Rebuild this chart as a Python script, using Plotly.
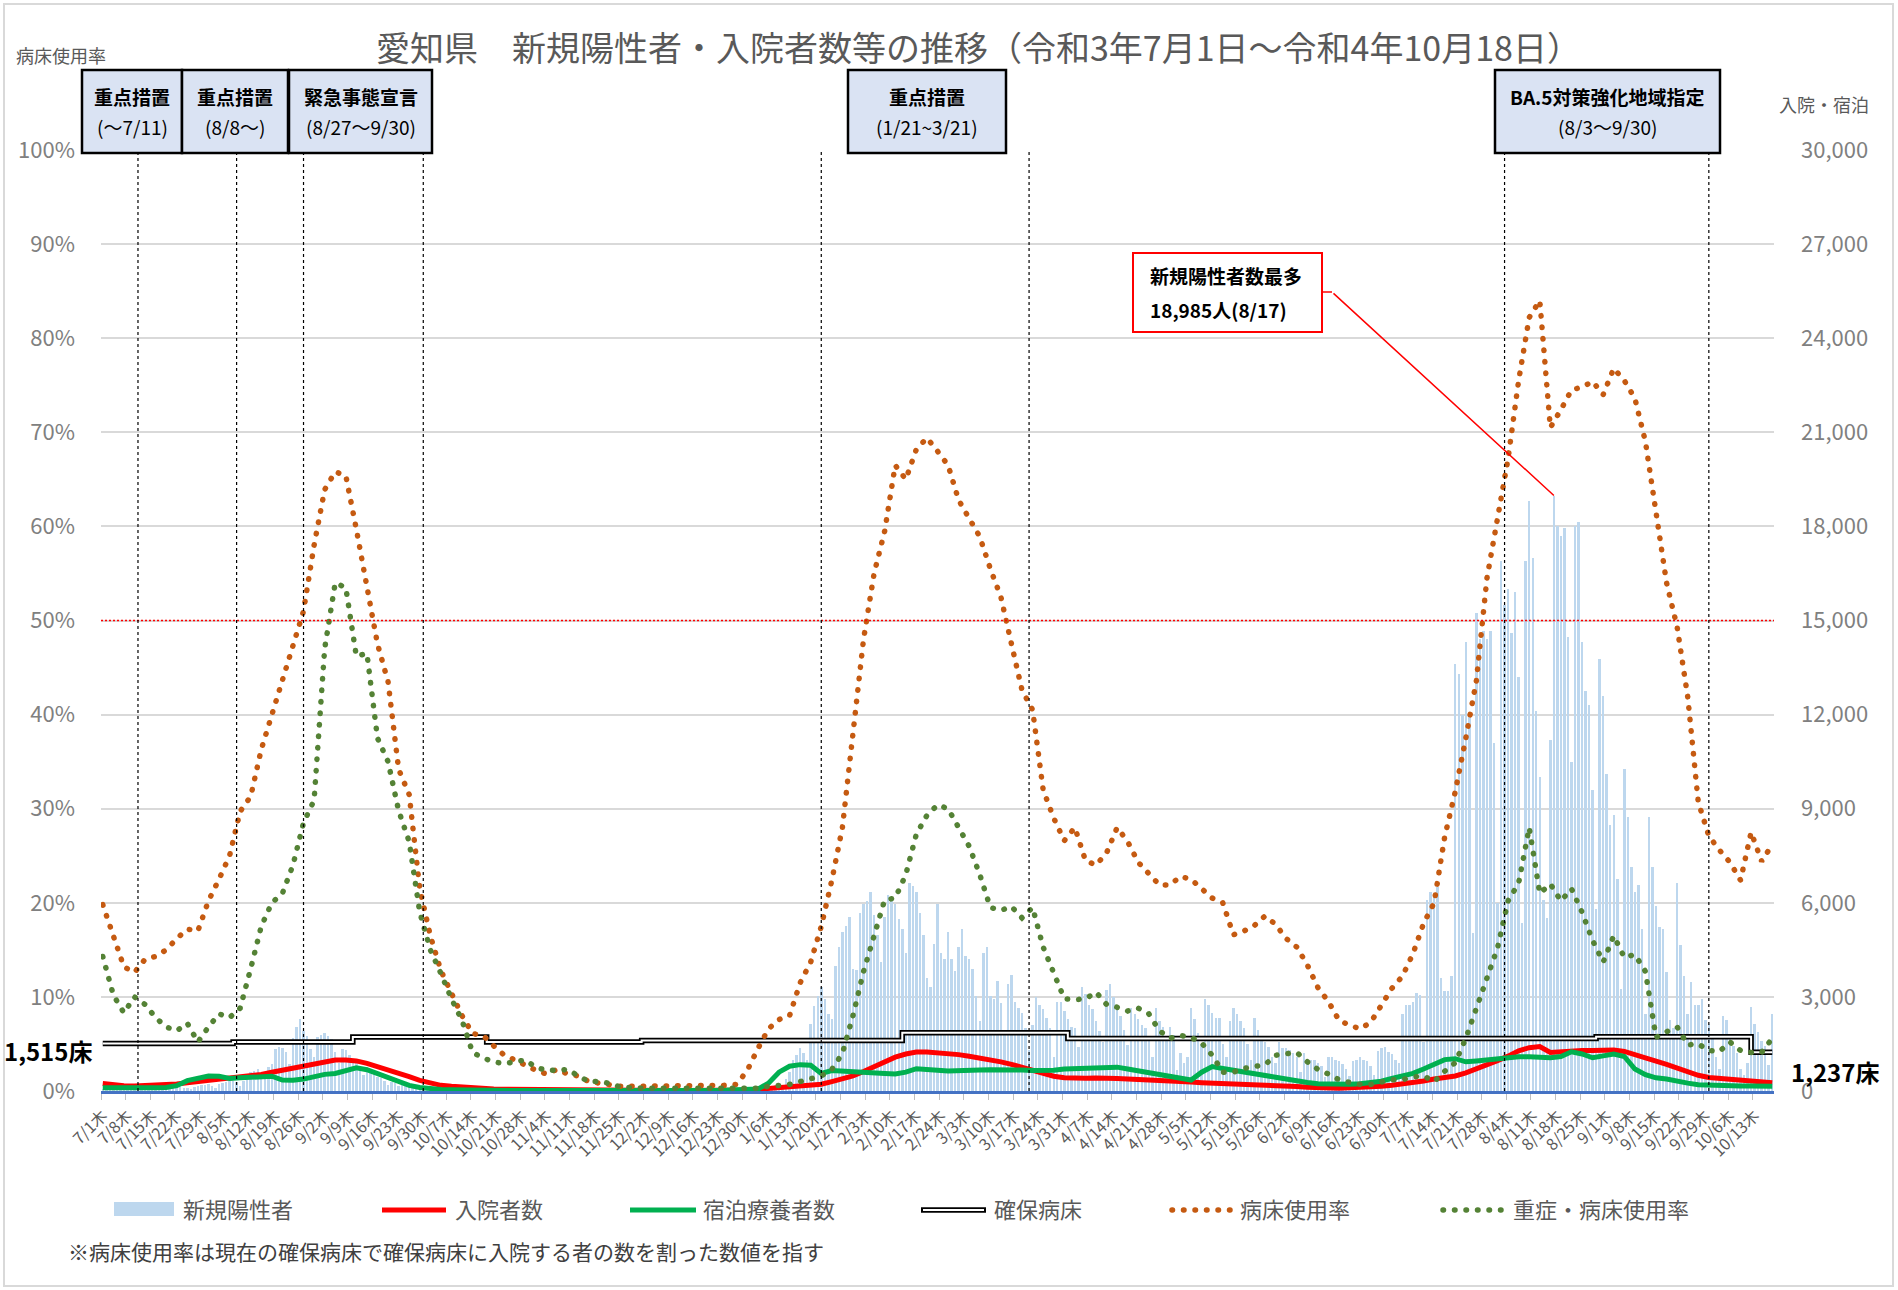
import pandas as pd
import plotly.graph_objects as go

# ---------------------------------------------------------------- data
START, END = "2021-07-01", "2022-10-18"
dates = pd.date_range(START, END, freq="D")
n_days = len(dates)

# daily new positives (rows = Thursday .. Wednesday)
new_positive = [
    35, 40, 38, 30, 18, 42, 48,
    45, 52, 50, 40, 25, 55, 60,
    65, 70, 75, 60, 35, 80, 95,
    110, 120, 100, 90, 60, 130, 160,
    180, 200, 220, 170, 110, 230, 260,
    290, 310, 330, 280, 170, 320, 420,
    600, 650, 700, 560, 380, 780, 870,
    1350, 1400, 1380, 1250, 850, 1700, 2050,
    2300, 1900, 1750, 1350, 1100, 1730, 1800,
    1840, 1750, 1650, 1245, 900, 1350, 1300,
    1140, 1030, 900, 760, 500, 760, 650,
    540, 450, 400, 320, 200, 300, 270,
    160, 200, 170, 130, 80, 150, 140,
    110, 100, 90, 70, 40, 80, 75,
    60, 55, 50, 40, 20, 45, 40,
    35, 30, 30, 25, 12, 28, 25,
    20, 18, 15, 12, 6, 14, 12,
    10, 10, 8, 7, 3, 8, 6,
    6, 5, 5, 4, 2, 5, 4,
    4, 5, 3, 3, 1, 4, 3,
    3, 4, 3, 2, 1, 3, 2,
    3, 2, 2, 2, 1, 3, 2,
    2, 3, 2, 1, 1, 2, 3,
    3, 2, 2, 1, 1, 2, 2,
    3, 3, 4, 2, 1, 4, 5,
    6, 5, 6, 4, 2, 7, 9,
    8, 12, 15, 14, 12, 25, 45,
    90, 150, 200, 230, 170, 380, 620,
    1000, 1150, 1370, 1200, 980, 2150, 2700,
    3030, 3320, 2930, 2440, 2300, 4000, 4590,
    5075, 5270, 5560, 3900, 3850, 5660, 5950,
    6050, 6340, 5600, 4980, 4100, 5560, 6250,
    6150, 5950, 5470, 5170, 4390, 6640, 6540,
    6340, 5660, 4980, 3610, 3300, 4685, 5950,
    4390, 4200, 5075, 4200, 3810, 4590, 5170,
    4300, 4200, 3900, 3030, 2245, 4390, 4590,
    3030, 2930, 3510, 2800, 1850, 3420, 3710,
    2830, 2635, 2500, 2000, 1300, 2100, 3000,
    2730, 2600, 2340, 2000, 1070, 2830, 2830,
    2540, 2300, 2050, 2000, 1400, 3320, 3100,
    2730, 2600, 2245, 1900, 1560, 3220, 3420,
    3000, 2635, 2400, 1950, 1460, 2635, 2440,
    2300, 2100, 2000, 1760, 1100, 2635, 2245,
    2050, 1660, 2050, 1800, 680, 1200, 880,
    1070, 2635, 2300, 1850, 1500, 2930, 2730,
    2500, 2340, 2340, 1500, 1070, 2245, 2635,
    2440, 2245, 2000, 1500, 980, 2340, 1950,
    1760, 1560, 1400, 1100, 880, 1560, 1370,
    1370, 1300, 1200, 1070, 620, 1200, 980,
    1000, 980, 880, 800, 450, 1070, 1070,
    1000, 960, 860, 700, 490, 950, 1000,
    1070, 1000, 950, 800, 500, 1270, 1370,
    1400, 1250, 1170, 1000, 880, 2470, 2730,
    2730, 2830, 3140, 3060, 1550, 6090, 6360,
    6230, 6490, 3590, 3200, 3200, 3660, 13600,
    13300, 12000, 14300, 12000, 5040, 15250, 14400,
    14660, 14400, 14660, 11100, 6000, 16900, 15500,
    16000, 14600, 15900, 13200, 5370, 16900, 18800,
    17000, 12100, 10000, 6100, 5500, 11200, 18985,
    18000, 17700, 17950, 14470, 10500, 18000, 18150,
    14330, 12750, 12300, 9600, 5800, 13770, 12580,
    10100, 8470, 8800, 6750, 3260, 10250, 8730,
    7150, 6360, 6560, 5170, 2470, 8730, 7150,
    5900, 5240, 5170, 3790, 2270, 2000, 6620,
    4650, 3660, 2470, 3460, 2730, 2730, 2930,
    2270, 2140, 1700, 1090, 700, 2400, 2270,
    1750, 1420, 1220, 690, 500, 900, 2670,
    2140, 1880, 1610, 1420, 830, 2470,
]

# the line series are recorded every third day
LINE_STEP = 3
line_idx = list(range(0, n_days, LINE_STEP))

hospitalized = [
    240, 200, 170, 160, 165, 175, 185, 220, 260, 300,
    330, 370, 400, 440, 480, 530, 600, 670, 740, 800,
    880, 950, 990, 985, 960, 880, 780, 690, 580, 460,
    340, 250, 180, 150, 120, 105, 80, 65, 55, 50,
    45, 40, 35, 30, 25, 22, 20, 18, 15, 14,
    12, 12, 12, 12, 12, 12, 12, 12, 14, 15,
    18, 35, 55, 80, 110, 140, 170, 190, 215, 300,
    380, 480, 620, 780, 950, 1080, 1180, 1240, 1245, 1230,
    1200, 1160, 1110, 1060, 1000, 930, 850, 760, 660, 540,
    470, 420, 400, 405, 415, 425, 400, 380, 370, 350,
    330, 320, 300, 285, 265, 255, 230, 215, 210, 195,
    180, 170, 150, 140, 120, 100, 95, 90, 100, 105,
    120, 150, 180, 215, 260, 320, 380, 430, 480, 580,
    700, 830, 970, 1110, 1280, 1380, 1420, 1230, 1260, 1280,
    1290, 1290, 1300, 1310, 1260, 1170, 1050, 950, 850, 720,
    600, 500, 430, 400, 380, 340, 290, 280, 260,
]

lodging = [
    100, 95, 90, 90, 95, 100, 110, 170, 330, 420,
    480, 470, 400, 420, 450, 470, 470, 350, 340, 380,
    470, 530, 560, 640, 740, 680, 560, 440, 300, 180,
    110, 70, 50, 40, 30, 25, 20, 18, 15, 14,
    12, 10, 10, 10, 10, 10, 10, 10, 10, 10,
    10, 10, 10, 10, 10, 10, 10, 12, 15, 18,
    22, 30, 60, 250, 600, 790, 840, 820, 560, 650,
    640, 630, 600, 570, 560, 540, 600, 710, 700, 660,
    640, 640, 660, 670, 680, 690, 690, 670, 650, 640,
    660, 700, 715, 740, 770, 780, 760, 700, 640, 590,
    520, 460, 400, 350, 600, 780, 720, 670, 620, 570,
    500, 440, 380, 310, 270, 230, 215, 210, 215, 230,
    260, 310, 400, 470, 560, 700, 850, 1000, 1030, 930,
    960, 1000, 1030, 1060, 1090, 1090, 1080, 1060, 1100, 1250,
    1180, 1060, 1120, 1180, 1100, 700, 520, 420, 380, 300,
    250, 200, 180, 170, 165, 160, 160, 155, 155,
]

bed_rate = [
    19.8, 16.4, 13.2, 12.6, 14.0, 14.3, 15.0, 16.2, 17.2, 17.0,
    20.2, 22.5, 25.0, 29.7, 31.3, 36.3, 40.0, 43.8, 47.0, 51.0,
    58.0, 63.9, 65.8, 65.4, 59.7, 53.7, 47.5, 43.5, 34.2, 31.5,
    21.5, 16.5, 12.8, 10.4, 8.0, 6.1, 5.9, 4.8, 3.8, 3.3,
    2.7, 2.2, 1.8, 2.3, 1.8, 1.6, 1.0, 0.8, 0.6, 0.5,
    0.5, 0.5, 0.5, 0.5, 0.5, 0.5, 0.5, 0.5, 0.5, 0.6,
    0.7, 2.2, 4.5, 6.6, 7.6, 8.0, 11.5, 13.7, 17.5, 22.4,
    28.0, 38.0, 48.0, 55.0, 59.5, 66.5, 65.0, 68.2, 69.4, 68.0,
    66.5, 62.8, 60.8, 58.9, 55.5, 52.5, 47.5, 42.6, 40.5, 32.0,
    29.0, 26.6, 28.0, 24.5, 24.0, 25.3, 28.0, 26.5, 24.3, 23.0,
    21.9, 21.9, 22.8, 22.5, 21.5, 20.5, 20.0, 16.6, 17.0, 17.6,
    18.6, 17.7, 16.2, 15.3, 13.4, 11.0, 9.5, 7.5, 7.0, 6.6,
    7.3, 9.2, 10.9, 12.2, 14.6, 17.8, 20.0, 27.0, 31.8, 37.5,
    43.6, 54.5, 60.5, 67.2, 75.5, 82.2, 84.0, 70.5, 72.4, 74.5,
    74.8, 75.4, 74.0, 76.8, 75.5, 73.6, 69.0, 61.0, 54.0, 49.3,
    41.9, 30.7, 27.1, 25.6, 24.3, 22.4, 27.5, 24.4, 26.2,
]

severe_rate = [
    14.3, 10.2, 8.3, 10.0, 9.2, 7.8, 6.8, 6.4, 7.2, 5.2,
    6.8, 8.2, 7.8, 8.8, 13.0, 17.5, 20.0, 21.0, 24.0, 28.5,
    30.9, 47.0, 54.0, 53.5, 46.2, 46.5, 37.5, 35.0, 29.8, 26.5,
    19.0, 15.0, 12.5, 9.8, 7.5, 4.1, 3.5, 3.1, 2.9, 3.1,
    3.3, 2.5, 2.2, 2.2, 2.3, 1.6, 1.0, 1.0, 0.8, 0.4,
    0.3, 0.3, 0.3, 0.3, 0.3, 0.3, 0.3, 0.3, 0.3, 0.3,
    0.3, 0.3, 0.3, 0.5, 0.6, 0.7, 1.0, 1.3, 1.6, 2.3,
    4.0, 8.0, 12.7, 16.5, 20.3, 20.5, 23.0, 27.3, 29.3, 30.4,
    30.0, 28.0, 26.0, 23.0, 19.5, 19.2, 19.6, 18.4, 19.5, 15.3,
    12.5, 9.8, 9.7, 9.8, 10.5, 9.2, 8.9, 8.5, 8.8, 8.2,
    6.4, 5.6, 5.9, 5.7, 5.1, 3.8, 2.0, 2.0, 2.4, 2.6,
    2.8, 3.8, 4.0, 4.1, 3.1, 2.3, 1.8, 1.2, 0.9, 0.7,
    0.7, 1.0, 1.2, 1.2, 1.5, 1.6, 1.0, 2.1, 3.0, 5.6,
    9.0, 12.0, 15.2, 20.2, 22.1, 28.0, 21.0, 22.0, 20.2, 21.5,
    19.0, 16.0, 13.7, 16.5, 14.2, 14.5, 12.7, 5.7, 6.3, 6.8,
    4.9, 5.0, 4.3, 4.2, 5.2, 4.3, 4.1, 4.1, 5.6,
]

# secured hospital beds: value in force from each change date
bed_change_dates = ["2021-07-01", "2021-08-07", "2021-09-10", "2021-10-18", "2021-12-01",
                    "2022-02-13", "2022-04-01", "2022-08-29", "2022-10-12"]
bed_counts = [1515, 1560, 1720, 1560, 1610, 1860, 1670, 1730, 1237]

# government measures (label, period, start/end lines)
measure_names = ["重点措置", "重点措置", "緊急事態宣言", "重点措置", "BA.5対策強化地域指定"]
measure_periods = ["(～7/11)", "(8/8～)", "(8/27～9/30)", "(1/21~3/21)", "(8/3～9/30)"]
measure_line_dates = ["2021-07-11", "2021-08-08", "2021-08-27", "2021-09-30",
                      "2022-01-21", "2022-03-21", "2022-08-03", "2022-09-30"]

TITLE = "愛知県　新規陽性者・入院者数等の推移（令和3年7月1日～令和4年10月18日）"
NOTE = "※病床使用率は現在の確保病床で確保病床に入院する者の数を割った数値を指す"
legend_names = ["新規陽性者", "入院者数", "宿泊療養者数", "確保病床", "病床使用率", "重症・病床使用率"]

# ---------------------------------------------------------------- layout geometry (px)
W, H = 1898, 1290
L, R, T, B = 101, 1774, 150, 1091
COUNT_MAX, RATE_MAX = 30000, 100

FONT = "Noto Sans CJK JP, Noto Sans, sans-serif"
GREY, DARK = "#595959", "#404040"
C_BAR, C_HOSP, C_LODGE = "#bdd7ee", "#ff0000", "#00b050"
C_RATE, C_SEVERE, C_BOX = "#c55a11", "#548235", "#dae3f3"
# near-zero dashes become round dots once the stroke caps are rounded (see post script)
DOTS = "0.5px,11px"
DOT_W = 5.5


def px_x(p):
    return (p - L) / (R - L)


def px_y(p):
    return (B - p) / (B - T)


def day_index(d):
    return dates.get_loc(pd.Timestamp(d))


def label(x, y, text, size, color, xanchor="center", **kw):
    return dict(x=px_x(x), y=px_y(y), xref="paper", yref="paper", xanchor=xanchor,
                yanchor="middle", showarrow=False, text=text,
                font=dict(size=size, color=color), **kw)


days = list(range(n_days))

fig = go.Figure()

fig.add_trace(go.Bar(x=days, y=new_positive, yaxis="y", marker_color=C_BAR,
                     marker_line_width=0, width=0.7, showlegend=False))
fig.add_trace(go.Scatter(x=line_idx, y=hospitalized, yaxis="y", mode="lines",
                         line=dict(color=C_HOSP, width=5), showlegend=False))
fig.add_trace(go.Scatter(x=line_idx, y=lodging, yaxis="y", mode="lines",
                         line=dict(color=C_LODGE, width=5), showlegend=False))

bed_x = [day_index(d) for d in bed_change_dates] + [n_days - 1]
bed_y = bed_counts + [bed_counts[-1]]
fig.add_trace(go.Scatter(x=bed_x, y=bed_y, yaxis="y", mode="lines", line_shape="hv",
                         line=dict(color="#000000", width=5.5), showlegend=False))
fig.add_trace(go.Scatter(x=bed_x, y=bed_y, yaxis="y", mode="lines", line_shape="hv",
                         line=dict(color="#ffffff", width=2), showlegend=False))

fig.add_trace(go.Scatter(x=line_idx, y=bed_rate, yaxis="y2", mode="lines",
                         line=dict(color=C_RATE, width=DOT_W, dash=DOTS), showlegend=False))
fig.add_trace(go.Scatter(x=line_idx, y=severe_rate, yaxis="y2", mode="lines",
                         line=dict(color=C_SEVERE, width=DOT_W, dash=DOTS), showlegend=False))

tick_vals = list(range(0, n_days, 7))
tick_text = [f"{dates[i].month}/{dates[i].day}木" for i in tick_vals]
minor_vals = [-0.5] + [v - 0.5 for v in tick_vals[1:]]

shapes = []
annotations = []

# 50% reference line
shapes.append(dict(type="line", xref="paper", x0=0, x1=1, yref="y2", y0=50, y1=50,
                   line=dict(color="#ff0000", width=1.5, dash="2px,2px")))

# measure lines
for d in measure_line_dates:
    xi = day_index(d)
    shapes.append(dict(type="line", xref="x", x0=xi, x1=xi, yref="paper", y0=0, y1=1,
                       line=dict(color="#000000", width=1.2, dash="3px,3px")))

# measure boxes
box_px = [(82, 182), (182, 288), (289, 432), (848, 1006), (1495, 1720)]
for (x0, x1), name, period in zip(box_px, measure_names, measure_periods):
    shapes.append(dict(type="rect", xref="paper", yref="paper",
                       x0=px_x(x0), x1=px_x(x1), y0=px_y(153), y1=px_y(70),
                       fillcolor=C_BOX, line=dict(color="#000000", width=2.5)))
    cx = (x0 + x1) / 2
    annotations.append(label(cx, 96, f"<b>{name}</b>", 19, "#000000"))
    annotations.append(label(cx, 127, period, 19, "#000000"))

# peak call-out
peak_val = max(new_positive)
peak_i = new_positive.index(peak_val)
peak_day = dates[peak_i]
shapes.append(dict(type="rect", xref="paper", yref="paper",
                   x0=px_x(1133), x1=px_x(1322), y0=px_y(332), y1=px_y(253),
                   fillcolor="#ffffff", line=dict(color="#ff0000", width=2)))
annotations.append(label(1148, 275, "<b>新規陽性者数最多</b>", 19, "#000000", xanchor="left"))
annotations.append(label(1148, 309, f"<b>{peak_val:,}人({peak_day.month}/{peak_day.day})</b>",
                         19, "#000000", xanchor="left"))
shapes.append(dict(type="line", xref="paper", yref="paper", x0=px_x(1322), x1=px_x(1332),
                   y0=px_y(292), y1=px_y(292), line=dict(color="#ff0000", width=1.5)))
peak_px = L + (peak_i + 0.5) / n_days * (R - L)
peak_py = B - peak_val / COUNT_MAX * (B - T)
annotations.append(dict(x=peak_i, y=peak_val, xref="x", yref="y", text="", showarrow=True,
                        arrowhead=0, arrowwidth=1.5, arrowcolor="#ff0000",
                        ax=1332 - peak_px, ay=292 - peak_py, standoff=0, startstandoff=0))

# bed count labels
annotations.append(dict(x=px_x(94), y=bed_counts[0], xref="paper", yref="y", xanchor="right",
                        yanchor="middle", yshift=-7, showarrow=False,
                        text=f"<b>{bed_counts[0]:,}床</b>", font=dict(size=24, color="#000000")))
annotations.append(dict(x=px_x(1789), y=bed_counts[-1], xref="paper", yref="y", xanchor="left",
                        yanchor="middle", yshift=-19, showarrow=False,
                        text=f"<b>{bed_counts[-1]:,}床</b>", font=dict(size=24, color="#000000")))

# title and axis captions
annotations.append(label(978, 46, TITLE, 34, GREY))
annotations.append(label(14, 55, "病床使用率", 18, GREY, xanchor="left"))
annotations.append(label(1777, 104, "入院・宿泊", 18, GREY, xanchor="left"))

# legend
LEG_Y = 1208
leg_items = [
    ("bar", 114, 174, 181),
    ("line", 382, 446, 453),
    ("line", 630, 696, 701),
    ("double", 921, 986, 992),
    ("dots", 1172, 1232, 1238),
    ("dots", 1443, 1503, 1511),
]
leg_colors = [C_BAR, C_HOSP, C_LODGE, "#000000", C_RATE, C_SEVERE]
for (kind, x0, x1, tx), color, name in zip(leg_items, leg_colors, legend_names):
    if kind == "bar":
        shapes.append(dict(type="rect", xref="paper", yref="paper", x0=px_x(x0), x1=px_x(x1),
                           y0=px_y(LEG_Y + 8), y1=px_y(LEG_Y - 6), fillcolor=color, line_width=0))
    elif kind == "line":
        shapes.append(dict(type="line", xref="paper", yref="paper", x0=px_x(x0), x1=px_x(x1),
                           y0=px_y(LEG_Y + 2), y1=px_y(LEG_Y + 2), line=dict(color=color, width=5)))
    elif kind == "double":
        shapes.append(dict(type="line", xref="paper", yref="paper", x0=px_x(x0), x1=px_x(x1),
                           y0=px_y(LEG_Y + 2), y1=px_y(LEG_Y + 2), line=dict(color="#000000", width=5.5)))
        shapes.append(dict(type="line", xref="paper", yref="paper", x0=px_x(x0 + 2), x1=px_x(x1 - 2),
                           y0=px_y(LEG_Y + 2), y1=px_y(LEG_Y + 2), line=dict(color="#ffffff", width=2)))
    else:
        shapes.append(dict(type="line", xref="paper", yref="paper", x0=px_x(x0), x1=px_x(x1),
                           y0=px_y(LEG_Y + 2), y1=px_y(LEG_Y + 2),
                           line=dict(color=color, width=DOT_W, dash=DOTS)))
    annotations.append(label(tx, LEG_Y, name, 22, GREY, xanchor="left"))

annotations.append(label(66, 1251, NOTE, 21, DARK, xanchor="left"))

# outer frame
shapes.append(dict(type="rect", xref="paper", yref="paper", layer="below",
                   x0=px_x(4), x1=px_x(1893), y0=px_y(1286), y1=px_y(4),
                   line=dict(color="#d9d9d9", width=2)))

fig.update_layout(
    width=W, height=H, autosize=False,
    margin=dict(l=L, r=W - R, t=T, b=H - B),
    paper_bgcolor="#ffffff", plot_bgcolor="#ffffff",
    font=dict(family=FONT, color=GREY),
    bargap=0, showlegend=False,
    xaxis=dict(range=[-0.5, n_days - 0.5], tickmode="array", tickvals=tick_vals, ticktext=tick_text,
               tickangle=-45, tickfont=dict(size=16, color=GREY), showgrid=False, zeroline=False,
               showline=True, linecolor="#4472c4", linewidth=3, ticks="", ticklabelstandoff=6,
               minor=dict(tickmode="array", tickvals=minor_vals, ticks="outside", ticklen=6,
                          tickcolor="#bfbfbf", tickwidth=1)),
    yaxis=dict(range=[0, COUNT_MAX], dtick=3000, tickformat=",", side="right",
               showgrid=True, gridcolor="#d9d9d9", gridwidth=1.5, zeroline=False,
               tickfont=dict(size=22, color="#808080"), ticks="", ticklabelstandoff=26),
    yaxis2=dict(range=[0, RATE_MAX], dtick=10, ticksuffix="%", side="left", overlaying="y",
                showgrid=False, zeroline=False, tickfont=dict(size=22, color="#808080"),
                ticks="", ticklabelstandoff=25),
    shapes=shapes, annotations=annotations,
)

# round the caps of the dotted strokes so they render as round dots
ROUND_DOTS_JS = """
(function () {
  var gd = document.getElementById('{plot_id}');
  function roundDots() {
    gd.querySelectorAll('path').forEach(function (p) {
      var da = p.style.strokeDasharray || p.getAttribute('stroke-dasharray') || '';
      if (da.indexOf('0.5px') === 0) { p.style.strokeLinecap = 'round'; }
    });
  }
  roundDots();
  gd.on('plotly_afterplot', roundDots);
})();
"""

fig.write_html("out.html", post_script=ROUND_DOTS_JS)
